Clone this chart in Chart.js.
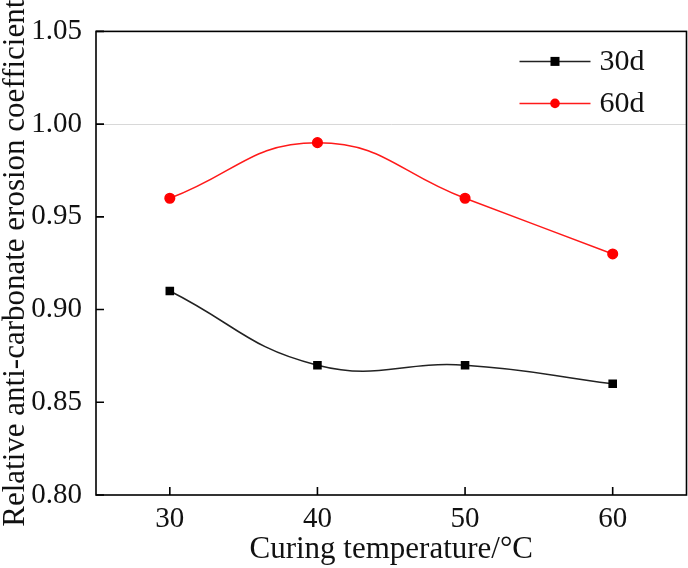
<!DOCTYPE html>
<html>
<head>
<meta charset="utf-8">
<script src="https://cdn.jsdelivr.net/npm/chart.js@4.4.1/dist/chart.umd.min.js"></script>
<style>
  html, body { margin: 0; padding: 0; background: #fff; }
  #wrap { width: 688px; height: 568px; }
</style>
</head>
<body>
<div id="wrap"><canvas id="myChart"></canvas></div>
<script>
"use strict";
// data
const temps = [30, 40, 50, 60];
const xTicks = [30, 40, 50, 60];
const d30 = [0.91, 0.87, 0.87, 0.86];
const d60 = [0.96, 0.99, 0.96, 0.93];
const seriesNames = ["30d", "60d"];

const font = "'Liberation Serif', 'Times New Roman', serif";

// frame, inward ticks and the little legend box
const framePlugin = {
  id: "frame",
  afterDraw(chart) {
    const { ctx, chartArea: a, scales } = chart;
    ctx.save();
    ctx.strokeStyle = "#000";
    ctx.lineWidth = 1.6;
    ctx.strokeRect(a.left, a.top, a.right - a.left, a.bottom - a.top);
    ctx.beginPath();
    scales.y.ticks.forEach((t) => {
      const y = scales.y.getPixelForValue(t.value);
      ctx.moveTo(a.left, y);
      ctx.lineTo(a.left + 8, y);
    });
    scales.x.ticks.forEach((t) => {
      const x = scales.x.getPixelForValue(t.value);
      ctx.moveTo(x, a.bottom);
      ctx.lineTo(x, a.bottom - 8);
    });
    ctx.stroke();

    // legend
    chart.data.datasets.forEach((ds, i) => {
      const y = a.top + 30 + i * 42;
      const x0 = a.right - 167;
      ctx.strokeStyle = ds.borderColor;
      ctx.lineWidth = 1.5;
      ctx.beginPath();
      ctx.moveTo(x0, y);
      ctx.lineTo(x0 + 71, y);
      ctx.stroke();
      ctx.fillStyle = ds.pointBackgroundColor;
      if (ds.pointStyle === "rect") {
        ctx.fillRect(x0 + 31, y - 4.5, 9, 9);
      } else {
        ctx.beginPath();
        ctx.arc(x0 + 35.5, y, 4.8, 0, Math.PI * 2);
        ctx.fill();
      }
      ctx.fillStyle = "#111";
      ctx.font = "30px " + font;
      ctx.textBaseline = "middle";
      ctx.fillText(ds.label, x0 + 80, y + 1);
    });
    ctx.restore();
  },
};

const toPts = (arr) => temps.map((t, i) => ({ x: t, y: arr[i] }));

let lineChart = document.getElementById("myChart");
const myChart = new Chart(lineChart, {
  type: "line",
  data: {
    datasets: [
      {
        label: seriesNames[0],
        data: toPts(d30),
        borderColor: "#222",
        backgroundColor: "#000",
        pointBackgroundColor: "#000",
        pointBorderColor: "#000",
        pointStyle: "rect",
        pointRadius: 5,
        borderWidth: 1.5,
        tension: 0.45,
        fill: false,
      },
      {
        label: seriesNames[1],
        data: toPts(d60),
        borderColor: "#ff1a1a",
        backgroundColor: "#ff0000",
        pointBackgroundColor: "#ff0000",
        pointBorderColor: "#ff0000",
        pointStyle: "circle",
        pointRadius: 4.8,
        borderWidth: 1.5,
        tension: 0.45,
        fill: false,
      },
    ],
  },
  options: {
    responsive: true,
    maintainAspectRatio: false,
    animation: false,
    layout: { autoPadding: false, padding: { top: 31, right: 1.5, left: 0, bottom: 0 } },
    plugins: {
      legend: { display: false },
      tooltip: { enabled: false },
    },
    scales: {
      x: {
        type: "linear",
        min: 25,
        max: 65,
        afterBuildTicks: (s) => {
          s.ticks = xTicks.map((v) => ({ value: v }));
        },
        afterFit: (s) => {
          s.height = 73;
        },
        grid: { display: false, drawTicks: false },
        border: { display: false },
        ticks: {
          padding: 7,
          color: "#111",
          font: { family: font, size: 29 },
        },
        title: {
          display: true,
          text: "Curing temperature/°C",
          color: "#111",
          padding: { top: 0, bottom: 0 },
          font: { family: font, size: 31 },
        },
      },
      y: {
        min: 0.8,
        max: 1.05,
        afterFit: (s) => {
          s.width = 96;
        },
        grid: {
          drawTicks: false,
          color: (c) => (c.tick && Math.abs(c.tick.value - 1) < 1e-6 ? "#d8d8d8" : "transparent"),
          lineWidth: 1,
        },
        border: { display: false },
        ticks: {
          stepSize: 0.05,
          padding: 14,
          color: "#111",
          font: { family: font, size: 29 },
          callback: (v) => Number(v).toFixed(2),
        },
        title: {
          display: true,
          text: "Relative anti-carbonate erosion coefficient",
          color: "#111",
          padding: { top: 0, bottom: 0 },
          font: { family: font, size: 31, lineHeight: 1 },
        },
      },
    },
  },
  plugins: [framePlugin],
});
</script>
</body>
</html>
